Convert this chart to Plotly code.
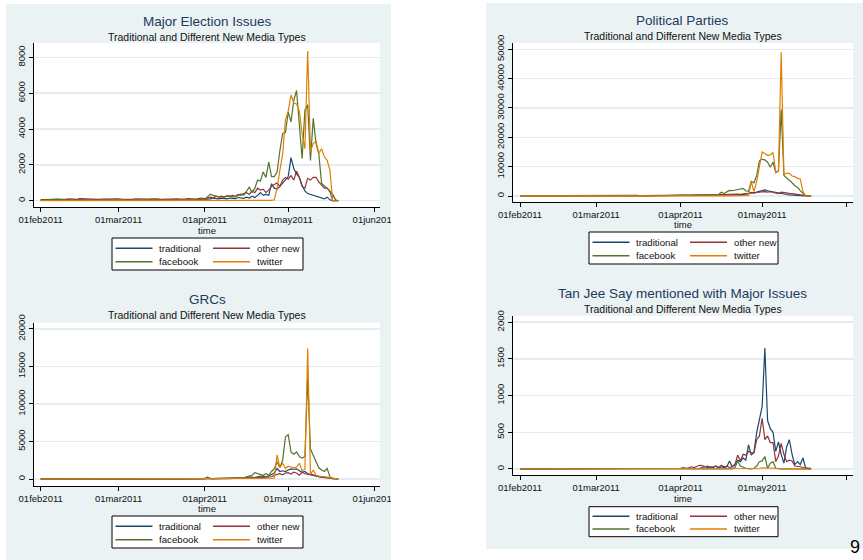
import plotly.graph_objects as go
import pandas as pd

W, H = 863, 560
FONT = "Liberation Sans, Arial, sans-serif"

# ---------------- data ----------------
dates = pd.date_range("2011-02-01", "2011-05-19", freq="D")

series_names = ["traditional", "other new", "facebook", "twitter"]
series_colors = ["#1A476F", "#90353B", "#55752F", "#E37E00"]

panel_titles = ["Major Election Issues", "Political Parties", "GRCs",
                "Tan Jee Say mentioned with Major Issues"]
subtitle = "Traditional and Different New Media Types"
x_axis_title = "time"
x_tick_dates = ["2011-02-01", "2011-03-01", "2011-04-01", "2011-05-01", "2011-06-01"]
x_tick_labels = ["01feb2011", "01mar2011", "01apr2011", "01may2011", "01jun2011"]
y_ticks_1 = [0, 2000, 4000, 6000, 8000]
y_ticks_2 = [0, 10000, 20000, 30000, 40000, 50000]
y_ticks_3 = [0, 5000, 10000, 15000, 20000]
y_ticks_4 = [0, 500, 1000, 1500, 2000]
page_number = "9"

# Panel 1: Major Election Issues
trad_1 = [30,25,40,35,20,30,45,30,25,35,
          40,30,20,35,50,40,30,25,35,30,
          40,45,30,25,35,40,30,35,25,30,
          45,40,30,35,25,30,40,35,30,25,
          35,40,45,30,25,35,30,40,35,30,
          25,30,40,45,35,30,40,50,60,
          80,120,100,150,120,100,140,120,100,150,
          130,120,180,150,130,200,150,250,180,300,
          450,300,350,300,950,700,650,800,1000,1200,
          1350,2400,1800,1500,1300,850,550,400,350,300,
          250,200,150,100,200,50,0,0,0]
other_1 = [60,70,80,60,70,90,80,70,60,80,
           100,90,70,80,120,110,90,80,100,90,
           80,70,90,100,80,90,110,120,110,90,
           80,100,90,80,110,100,90,80,70,90,
           100,110,100,80,90,100,80,90,110,100,
           90,80,100,120,110,100,90,130,150,
           100,150,200,150,250,200,250,200,280,250,
           300,250,350,300,400,450,350,550,450,700,
           600,650,450,600,800,900,1000,800,1150,1300,
           1200,1400,1150,1650,1300,800,700,1250,1150,1300,
           1300,1050,900,700,700,550,350,50,0]
fb_1 = [20,30,40,60,80,100,90,70,50,40,
        30,40,50,40,30,30,40,50,40,30,
        20,30,40,30,20,30,40,50,40,30,
        40,30,20,30,40,30,20,30,40,50,
        40,30,20,30,40,30,20,30,40,30,
        40,50,40,30,40,50,60,50,60,
        80,220,370,300,250,220,200,230,250,260,
        220,230,300,380,300,500,750,450,700,1150,
        1100,1600,1300,2150,1350,1350,1600,2800,3750,3800,
        4950,4400,5600,6150,4100,2350,5050,5350,2250,4600,
        3200,2600,970,850,700,500,0,0,0]
tw_1 = [5,5,5,10,5,5,5,5,10,5,
        5,5,5,5,10,5,5,5,5,5,
        5,10,5,5,5,5,5,5,5,10,
        5,5,5,5,5,5,5,10,5,5,
        5,5,5,5,5,10,5,5,5,5,
        5,5,10,5,5,5,5,5,10,
        10,10,15,10,10,20,10,10,15,20,
        10,15,10,20,10,20,15,10,20,15,
        10,20,15,10,20,50,700,1700,2600,4500,
        5000,5900,5450,5400,5000,3750,2900,8350,2750,3200,
        3300,2650,2900,2450,2250,1700,0,0,0]

# Panel 2: Political Parties
trad_2 = [50,60,40,50,70,60,50,40,60,50,
          70,60,50,40,60,80,70,60,50,60,
          70,60,50,60,70,80,60,50,60,70,
          80,60,70,60,50,70,80,60,50,60,
          70,80,90,70,60,70,80,90,70,60,
          80,90,100,80,90,100,120,100,110,
          150,200,180,150,200,250,200,180,220,250,
          230,200,250,300,280,350,300,400,350,450,
          400,500,450,550,600,800,1200,1000,1300,1500,
          1900,2100,1800,1600,1400,1100,900,800,700,500,
          400,300,200,150,100,100,50,0,0]
other_2 = [100,120,110,130,120,100,110,130,140,120,
           110,130,150,140,120,130,140,160,150,130,
           140,150,170,160,140,150,160,180,170,150,
           160,170,190,180,160,170,180,200,190,170,
           180,190,200,180,170,190,200,210,190,180,
           200,210,220,200,190,210,220,230,220,
           250,300,280,260,300,350,320,300,350,380,
           350,330,380,400,380,420,450,500,480,550,
           600,650,600,700,800,900,1000,900,1100,1200,
           1400,1500,1300,1500,1200,900,800,1300,1100,1000,
           900,800,600,500,400,300,200,100,0]
fb_2 = [50,80,100,80,60,70,90,100,80,70,
        60,80,100,120,100,80,90,100,110,90,
        80,100,120,110,90,100,110,130,120,100,
        110,120,140,130,110,120,130,150,140,120,
        130,140,160,150,130,140,150,170,160,140,
        150,160,180,170,150,160,180,200,250,
        300,350,300,280,320,350,300,330,380,350,
        400,380,420,450,500,1300,800,1400,1900,1800,
        2000,2100,2300,2600,1800,1600,5000,4500,7000,12000,
        12500,12300,11500,9800,11500,8000,8500,29500,7000,6200,
        5500,4500,3500,3000,1800,800,0,0,0]
tw_2 = [20,30,20,40,30,20,30,40,30,20,
        30,40,30,20,30,40,50,30,20,30,
        40,30,20,30,40,30,50,40,30,20,
        30,40,30,20,30,40,30,20,30,40,
        50,40,30,20,30,40,30,50,40,30,
        20,30,40,30,20,30,40,30,20,
        30,40,50,40,30,50,40,30,50,60,
        40,50,60,50,40,60,50,40,60,50,
        70,60,50,80,60,200,4800,1500,5000,10000,
        15000,14500,13800,14000,14800,8200,8500,49000,7200,7800,
        7700,6800,6600,6000,5800,1500,0,0,0]

# Panel 3: GRCs
trad_3 = [10,15,20,10,15,20,25,15,10,20,
          15,20,10,15,20,25,15,20,10,15,
          20,15,10,20,25,15,20,15,10,20,
          15,20,25,15,10,20,15,20,25,15,
          20,15,10,20,25,20,15,20,25,20,
          15,20,25,30,20,25,30,40,50,
          50,200,60,40,50,80,60,50,70,60,
          80,100,80,90,120,200,300,250,200,300,
          400,350,300,400,600,800,1400,1000,1100,1000,
          1200,1350,1300,1350,1100,900,1000,700,650,500,
          400,300,250,200,150,100,50,20,0]
other_3 = [5,10,5,10,15,10,5,10,15,10,
           5,10,15,10,5,10,15,10,5,10,
           15,10,5,10,15,10,5,10,15,10,
           5,10,15,10,5,10,15,10,5,10,
           15,10,5,10,15,10,5,10,15,10,
           5,10,15,10,20,15,20,25,30,
           20,40,30,35,40,50,40,60,50,70,
           60,80,70,90,100,120,150,130,160,200,
           180,200,250,220,300,500,600,700,550,800,
           850,650,900,800,500,900,700,600,500,400,
           350,300,250,200,150,100,50,20,0]
fb_3 = [10,15,20,15,10,20,15,10,20,15,
        10,20,15,10,20,15,10,20,15,10,
        20,15,10,20,15,10,20,15,10,20,
        15,10,20,15,10,20,15,10,20,15,
        10,20,15,10,20,15,10,20,15,10,
        20,15,10,20,15,20,30,40,50,
        50,250,80,60,70,100,80,60,90,100,
        80,120,150,120,150,300,400,500,850,700,
        600,500,700,500,1000,1400,2300,1500,2500,5600,
        5900,3600,3300,3600,3000,2800,3000,13500,4000,3200,
        2300,1500,1200,1000,1400,300,0,0,0]
tw_3 = [0,0,5,0,0,0,5,0,0,0,
        0,5,0,0,0,0,5,0,0,0,
        0,0,5,0,0,0,0,5,0,0,
        0,0,0,5,0,0,0,0,5,0,
        0,0,0,0,5,0,0,0,0,5,
        0,0,0,0,5,0,0,0,10,
        10,20,10,15,20,10,20,15,10,20,
        15,20,30,20,25,30,20,30,40,30,
        40,30,50,40,50,100,3200,1500,2100,1400,
        1700,1600,1500,1600,2100,1100,1300,17400,600,1200,
        500,400,400,300,250,200,150,50,0]

# Panel 4: Tan Jee Say mentioned with Major Issues
trad_4 = [0,0,0,0,0,0,0,0,0,0,
          0,0,0,0,0,0,0,0,0,0,
          0,0,0,0,0,0,0,0,0,0,
          0,0,0,0,0,0,0,0,0,0,
          0,0,0,0,0,0,0,0,0,0,
          0,0,0,0,0,0,0,0,0,
          0,5,0,10,5,10,5,10,20,10,
          20,30,20,40,10,30,20,30,110,30,
          60,120,100,150,120,330,190,230,500,700,
          850,1650,660,550,500,240,370,200,80,300,
          400,200,60,100,60,150,10,0,0]
other_4 = [0,0,2,0,0,3,0,0,2,0,
           0,3,0,0,2,0,0,3,0,0,
           2,0,0,3,0,0,2,0,0,3,
           0,0,2,0,0,3,0,0,2,0,
           0,3,0,0,2,0,0,3,0,0,
           2,0,0,3,0,0,2,5,5,
           10,20,10,15,30,20,40,50,45,30,
           40,20,30,40,20,50,30,40,20,30,
           60,190,110,200,190,240,220,220,400,450,
           690,400,450,360,360,100,180,350,200,100,
           120,110,40,40,30,20,15,10,10]
fb_4 = [0,0,0,0,0,0,0,0,0,0,
        0,0,0,0,0,0,0,0,0,0,
        0,0,0,0,0,0,0,0,0,0,
        0,0,0,0,0,0,0,0,0,0,
        0,0,0,0,0,0,0,0,0,0,
        0,0,0,0,0,0,0,0,0,
        0,0,0,0,0,0,0,0,0,0,
        0,0,0,0,0,0,0,0,0,0,
        20,110,40,20,10,5,0,10,40,100,
        110,170,10,80,100,10,0,0,0,0,
        0,0,0,0,0,0,0,0,0]
tw_4 = [0,0,0,0,0,0,0,0,0,0,
        0,0,0,0,0,0,0,0,0,0,
        0,0,0,0,0,0,0,0,0,0,
        0,0,0,0,0,0,0,0,0,0,
        0,0,0,0,0,0,0,0,0,0,
        0,0,0,0,0,0,0,0,0,
        0,0,0,0,0,0,0,0,0,0,
        0,0,0,0,0,0,0,0,0,0,
        0,0,0,0,0,0,5,5,10,10,
        15,15,20,15,20,10,5,5,0,0,
        0,0,0,0,0,0,0,0,0]

panel_series = [
    [trad_1, other_1, fb_1, tw_1],
    [trad_2, other_2, fb_2, tw_2],
    [trad_3, other_3, fb_3, tw_3],
    [trad_4, other_4, fb_4, tw_4],
]
panel_yticks = [y_ticks_1, y_ticks_2, y_ticks_3, y_ticks_4]

# ---------------- layout geometry (pixels) ----------------
panels = [
    dict(box=(34, 43, 380, 207), xr=("2011-01-29 14:24", "2011-06-03 00:00"),
         yr=(-350, 8800), title_y=21.7, sub_y=37.3, time_y=230.0, leg=(112, 238, 303, 270)),
    dict(box=(512.7, 43, 853, 202), xr=("2011-01-29 07:12", "2011-06-03 09:36"),
         yr=(-2045, 52140), title_y=20.7, sub_y=36.0, time_y=224.0, leg=(589, 232, 778, 264)),
    dict(box=(34, 322.7, 380, 486), xr=("2011-01-29 14:24", "2011-06-03 00:00"),
         yr=(-933, 20835), title_y=299.3, sub_y=315.0, time_y=508.0, leg=(112, 516, 303, 548)),
    dict(box=(512.7, 315.7, 853, 475), xr=("2011-01-29 07:12", "2011-06-03 09:36"),
         yr=(-82, 2089), title_y=293.3, sub_y=309.3, time_y=498.0, leg=(589, 506.7, 778, 536.7)),
]

BG = "#EAF2F3"
GRID = "#E3ECEF"
TITLE_COLOR = "#22395F"
TEXT = "#111111"


def px(x):
    return x / W


def py(y):
    return 1 - y / H


fig = go.Figure()
shapes = []
annotations = []
layout_axes = {}

# panel backgrounds
shapes.append(dict(type="rect", xref="paper", yref="paper", x0=px(6), x1=px(391),
                   y0=py(560), y1=py(4), fillcolor=BG, line=dict(width=0), layer="below"))
shapes.append(dict(type="rect", xref="paper", yref="paper", x0=px(486), x1=px(863),
                   y0=py(549), y1=py(3), fillcolor=BG, line=dict(width=0), layer="below"))

for i, p in enumerate(panels):
    sfx = "" if i == 0 else str(i + 1)
    xa, ya = "x" + sfx, "y" + sfx
    l, t, r, b = p["box"]

    for name, color, vals in zip(series_names, series_colors, panel_series[i]):
        fig.add_trace(go.Scatter(x=dates, y=vals, mode="lines", name=name,
                                 line=dict(color=color, width=1.2),
                                 xaxis=xa, yaxis=ya, showlegend=False, hoverinfo="skip"))

    layout_axes["xaxis" + sfx] = dict(
        domain=[px(l), px(r)], anchor=ya, type="date", range=list(p["xr"]),
        tickmode="array", tickvals=x_tick_dates, ticktext=x_tick_labels,
        ticks="outside", ticklen=4, tickcolor="black", tickwidth=1,
        showline=True, linecolor="black", linewidth=1,
        showgrid=False, zeroline=False, automargin=False,
        tickfont=dict(size=9.5, color=TEXT, family=FONT), fixedrange=True)
    yt = panel_yticks[i]
    layout_axes["yaxis" + sfx] = dict(
        domain=[py(b), py(t)], anchor=xa, range=list(p["yr"]),
        tickmode="array", tickvals=yt, ticktext=[str(v) for v in yt], tickangle=-90,
        ticks="outside", ticklen=4, tickcolor="black", tickwidth=1,
        showline=True, linecolor="black", linewidth=1,
        showgrid=True, gridcolor=GRID, gridwidth=1.5, zeroline=False, automargin=False,
        tickfont=dict(size=9.5, color=TEXT, family=FONT), fixedrange=True)

    # white plot region
    shapes.append(dict(type="rect", xref="paper", yref="paper", x0=px(l), x1=px(r),
                       y0=py(b), y1=py(t), fillcolor="white", line=dict(width=0), layer="below"))

    cx = (l + r) / 2
    annotations.append(dict(text=panel_titles[i], x=px(cx), y=py(p["title_y"]), xref="paper", yref="paper",
                            xanchor="center", yanchor="middle", showarrow=False,
                            font=dict(size=13.5, color=TITLE_COLOR, family=FONT)))
    annotations.append(dict(text=subtitle, x=px(cx), y=py(p["sub_y"]), xref="paper", yref="paper",
                            xanchor="center", yanchor="middle", showarrow=False,
                            font=dict(size=10.5, color=TEXT, family=FONT)))
    annotations.append(dict(text=x_axis_title, x=px(cx), y=py(p["time_y"]), xref="paper", yref="paper",
                            xanchor="center", yanchor="middle", showarrow=False,
                            font=dict(size=9.5, color=TEXT, family=FONT)))

    # legend box
    ll, lt, lr, lb = p["leg"]
    shapes.append(dict(type="rect", xref="paper", yref="paper", x0=px(ll), x1=px(lr),
                       y0=py(lb), y1=py(lt), fillcolor="white",
                       line=dict(color="black", width=1), layer="above"))
    hgt = lb - lt
    rows = [lt + hgt * 0.32, lt + hgt * 0.74]
    cols = [ll + 3.5, ll + 101]
    for k, (name, color) in enumerate(zip(series_names, series_colors)):
        rr, cc = divmod(k, 2)
        yy = rows[rr]
        x0 = cols[cc]
        shapes.append(dict(type="line", xref="paper", yref="paper", x0=px(x0), x1=px(x0 + 37),
                           y0=py(yy), y1=py(yy), line=dict(color=color, width=1.5), layer="above"))
        annotations.append(dict(text=name, x=px(x0 + 41.5), y=py(yy), xref="paper", yref="paper",
                                xanchor="left", yanchor="middle", showarrow=False,
                                font=dict(size=9.7, color=TEXT, family=FONT)))

# hide overflow of the last tick label on the left column (as in the reference)
for (y0, y1) in [(208, 234), (488, 512)]:
    shapes.append(dict(type="rect", xref="paper", yref="paper", x0=px(391), x1=px(486),
                       y0=py(y1), y1=py(y0), fillcolor="white", line=dict(width=0), layer="above"))

annotations.append(dict(text=page_number, x=px(855), y=py(546.5), xref="paper", yref="paper",
                        xanchor="center", yanchor="middle", showarrow=False,
                        font=dict(size=18, color="black", family=FONT)))

fig.update_layout(
    template="none",
    width=W, height=H, margin=dict(l=0, r=0, t=0, b=0, autoexpand=False),
    paper_bgcolor="white", plot_bgcolor="white",
    font=dict(family=FONT, color=TEXT),
    showlegend=False, shapes=shapes, annotations=annotations,
    **layout_axes)

fig.write_html(
    "out.html",
    config={"displayModeBar": False, "staticPlot": True},
    post_script="document.body.style.margin='0px';document.documentElement.style.overflow='hidden';",
)
